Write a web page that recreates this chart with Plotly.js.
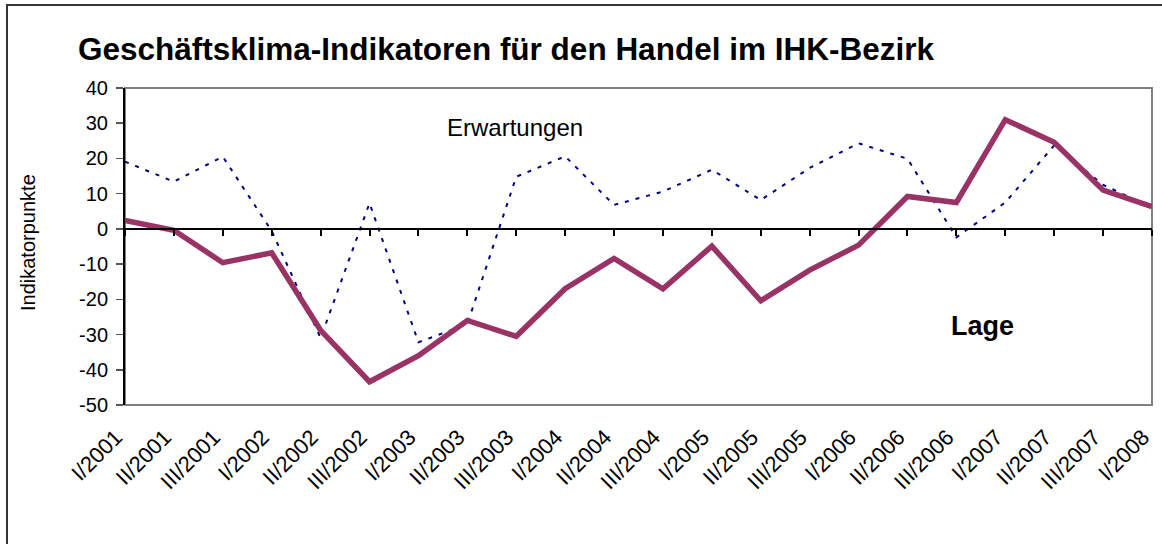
<!DOCTYPE html>
<html>
<head>
<meta charset="utf-8">
<script src="https://cdn.plot.ly/plotly-3.0.1.min.js"></script>
<style>
html,body{margin:0;padding:0;background:#fff;}
#chart{width:1162px;height:544px;}
</style>
</head>
<body>
<div id="chart"></div>
<script>
const categories = ["I/2001","II/2001","III/2001","I/2002","II/2002","III/2002","I/2003","II/2003","III/2003","I/2004","II/2004","III/2004","I/2005","II/2005","III/2005","I/2006","II/2006","III/2006","I/2007","II/2007","III/2007","I/2008"];
const lage = [2.4,-0.4,-9.6,-6.8,-28.8,-43.4,-36,-26,-30.5,-17,-8.4,-17,-4.9,-20.4,-11.7,-4.6,9.2,7.5,31,24.6,11,6.3];
const erwartungen = [19.1,13.4,20.5,-0.6,-31,7.3,-32.2,-27,14.8,20.6,6.8,10.6,16.8,8.2,17.3,24.3,19.9,-2.4,7.5,23.7,12.5,6];
const yTickVals = [40,30,20,10,0,-10,-20,-30,-40,-50];
const yTickText = ["40","30","20","10","0","-10","-20","-30","-40","-50"];
const titleText = "Geschäftsklima-Indikatoren für den Handel im IHK-Bezirk";
const yTitle = "Indikatorpunkte";
const labelErw = "Erwartungen";
const labelLage = "Lage";

const W = 1162, H = 544;
const L = 125, R = 10, T = 88, B = 139;
const pw = W - L - R, ph = H - T - B;
const px = v => (v - L) / pw;
const py = v => (H - B - v) / ph;

const font = "Arial, 'Liberation Sans', sans-serif";

const traces = [
  {x: categories, y: lage, type: 'scatter', mode: 'none', xaxis: 'x2', yaxis: 'y',
   hoverinfo: 'skip', showlegend: false},
  {x: categories, y: erwartungen, type: 'scatter', mode: 'lines', name: labelErw,
   line: {color: '#000080', width: 2, dash: '4px,7px'}},
  {x: categories, y: lage, type: 'scatter', mode: 'lines', name: labelLage,
   line: {color: '#993366', width: 5.5}}
];

const layout = {
  width: W, height: H,
  margin: {l: L, r: R, t: T, b: B, pad: 0},
  paper_bgcolor: '#ffffff', plot_bgcolor: '#ffffff',
  showlegend: false,
  font: {family: font, color: '#000', size: 20},
  title: {text: '<b>' + titleText + '</b>', font: {family: font, size: 31.5, color: '#000'},
          x: 78 / W, xref: 'container', xanchor: 'left',
          y: 1 - 49 / H, yref: 'container', yanchor: 'middle'},
  xaxis: {type: 'category', range: [0, categories.length - 1], showgrid: false, zeroline: false,
          showline: false, ticks: '', tickangle: -45, tickfont: {family: font, size: 22, color: '#000'},
          ticklabelstandoff: 14, ticklabelshift: -9},
  xaxis2: {type: 'category', overlaying: 'x', anchor: 'free', position: 50 / 90,
           range: [0, categories.length - 1],
           ticks: 'outside', ticklen: 6, tickwidth: 2, tickcolor: '#000',
           showline: true, linecolor: '#000', linewidth: 2.5, showticklabels: false,
           showgrid: false, zeroline: false, side: 'bottom'},
  yaxis: {range: [-50, 40], tickvals: yTickVals, ticktext: yTickText, showgrid: false, zeroline: false,
          showline: true, linecolor: '#000', linewidth: 2, ticks: 'outside', ticklen: 7,
          tickwidth: 1.5, tickcolor: '#555', tickfont: {family: font, size: 20, color: '#000'},
          ticklabelstandoff: 4},
  shapes: [
    {type: 'rect', xref: 'paper', yref: 'paper', x0: 0, x1: 1, y0: 0, y1: 1,
     line: {color: '#808080', width: 2}, layer: 'below'},
    {type: 'path', xref: 'paper', yref: 'paper',
     path: 'M ' + px(7) + ',' + py(560) + ' L ' + px(7) + ',' + py(5) + ' L ' + px(1175) + ',' + py(5),
     line: {color: '#333333', width: 2}}
  ],
  annotations: [
    {text: yTitle, xref: 'paper', yref: 'paper', x: px(28), y: py(243), textangle: -90,
     showarrow: false, xanchor: 'center', yanchor: 'middle', font: {family: font, size: 20, color: '#000'}},
    {text: labelErw, xref: 'paper', yref: 'paper', x: px(515), y: py(127),
     showarrow: false, xanchor: 'center', yanchor: 'middle', font: {family: font, size: 24, color: '#000'}},
    {text: '<b>' + labelLage + '</b>', xref: 'paper', yref: 'paper', x: px(982), y: py(326),
     showarrow: false, xanchor: 'center', yanchor: 'middle', font: {family: font, size: 27, color: '#000'}}
  ]
};

Plotly.newPlot('chart', traces, layout, {displayModeBar: false, staticPlot: true});
</script>
</body>
</html>
